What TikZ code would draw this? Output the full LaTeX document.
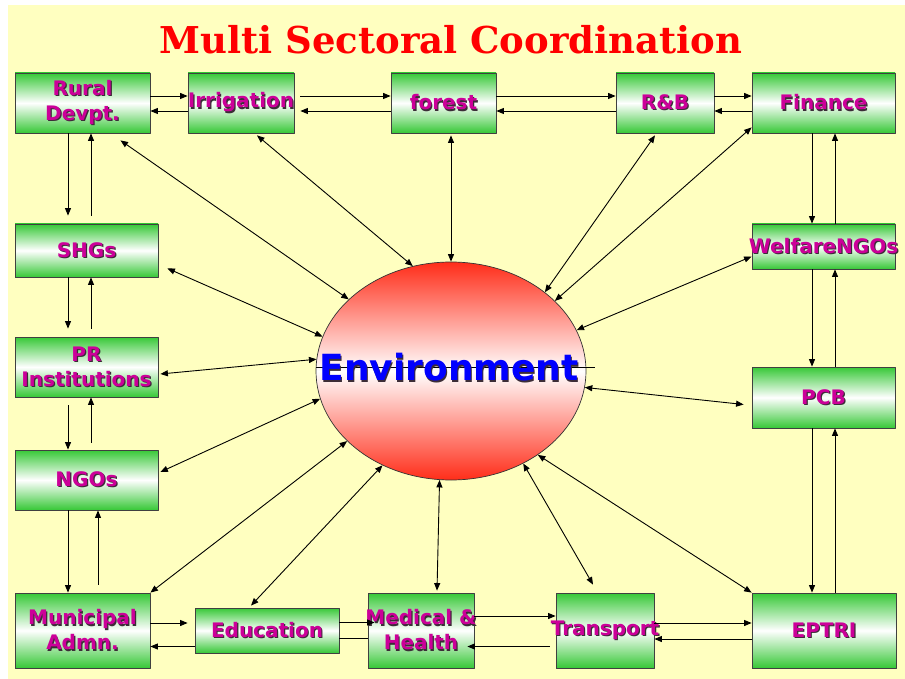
\documentclass[tikz,border=0pt]{standalone}
\usepackage{fontspec}
\setmainfont{DejaVu Sans}
\newfontfamily\titlefont{DejaVu Serif}
\usetikzlibrary{shapes.geometric,arrows.meta}
\definecolor{bgyellow}{RGB}{255,255,192}
\definecolor{boxgreen}{RGB}{55,200,55}
\definecolor{txtmag}{RGB}{204,0,153}
\definecolor{envred}{RGB}{255,45,25}
\definecolor{envblue}{RGB}{0,0,255}
\definecolor{shad}{RGB}{60,45,55}
% text with a small drop shadow, zero width so the box keeps its size
\newcommand\sh[1]{\makebox[0pt]{\rlap{\hspace{1.2pt}\raisebox{-1.2pt}{\textcolor{shad}{#1}}}#1}}
\tikzset{
  box/.style 2 args={draw=black!75, line width=0.8pt, top color=boxgreen, bottom color=boxgreen,
    middle color=white, minimum width=#1pt, minimum height=#2pt, inner sep=0pt,
    text=txtmag, font=\fontsize{20}{25}\selectfont\bfseries, align=center},
  link/.style={->, line width=0.9pt},
  dbl/.style={<->, line width=0.9pt},
}
\begin{document}
\begin{tikzpicture}[x=1pt,y=-1pt,>={Triangle[length=7.5pt,width=6pt]},line join=round]
  \useasboundingbox (0,0) rectangle (905,679);
  \fill[bgyellow] (8,5) rectangle (905,679);
  \node[text=red] (title) at (451,40) {\titlefont\fontsize{37}{40}\selectfont\bfseries Multi Sectoral Coordination};
  % environment
  \node[ellipse, draw=black!80, line width=0.7pt, top color=envred, bottom color=envred, middle color=white,
    minimum width=270pt, minimum height=218pt, inner sep=0pt] (env) at (451,371) {};
  \draw[line width=0.6pt] ([yshift=4pt]env.west) -- ([xshift=9pt,yshift=4pt]env.east);
  \node[text=envblue, font=\fontsize{36}{40}\selectfont\bfseries] (envtxt) at (449,368) {\sh{Environment}};
  % boxes
  \node[box={135}{60}] (rural) at (82.5,103) {\sh{Rural}\\\sh{Devpt.}\rule[-4pt]{0pt}{1pt}};
  \node[box={106}{60}] (irr) at (241,103) {\sh{Irrigation}};
  \node[box={105}{60}] (forest) at (443.5,103) {\sh{forest}};
  \node[box={98}{60}] (rb) at (665,103) {\sh{R\&B}};
  \node[box={143}{60}] (fin) at (823.5,103) {\sh{Finance}};
  \node[box={143}{53}] (shgs) at (86.5,250.5) {\sh{SHGs}};
  \node[box={143}{60}] (pr) at (86.5,367) {\sh{PR}\\\sh{Institutions}};
  \node[box={143}{60}] (ngos) at (86.5,480) {\sh{NGOs}};
  \node[box={143}{45}] (welf) at (823.5,246.5) {\sh{WelfareNGOs}};
  \node[box={143}{61}] (pcb) at (823.5,397.5) {\sh{PCB}};
  \node[box={135}{75}] (mun) at (82.5,630.5) {\sh{Municipal}\\\sh{Admn.}};
  \node[box={144}{45}] (edu) at (267,630.5) {\sh{Education}};
  \node[box={106}{75}] (med) at (421,630.5) {\sh{Medical \&}\\\sh{Health}};
  \node[box={98}{75}] (trans) at (605,630.5) {\sh{Transport}};
  \node[box={144}{75}] (eptri) at (824,630.5) {\sh{EPTRI}};
  % lanes for the vertical pairs
  \coordinate (ldown) at (68,0);
  \coordinate (lup) at (91,0);
  \coordinate (lup2) at (98,0);
  \coordinate (rdown) at (812,0);
  \coordinate (rup) at (835,0);
  % top row
  \draw[link] ([yshift=7pt]rural.east) -- ([yshift=7pt]irr.west);
  \draw[link] ([yshift=-8pt]irr.west) -- ([yshift=-8pt]rural.east);
  \draw[link, shorten <=6pt] ([yshift=7pt]irr.east) -- ([yshift=7pt]forest.west);
  \draw[link, shorten >=6pt] ([yshift=-8pt]forest.west) -- ([yshift=-8pt]irr.east);
  \draw[link] ([yshift=7pt]forest.east) -- ([yshift=7pt]rb.west);
  \draw[link] ([yshift=-8pt]rb.west) -- ([yshift=-8pt]forest.east);
  \draw[link] ([yshift=7pt]rb.east) -- ([yshift=7pt]fin.west);
  \draw[link] ([yshift=-8pt]fin.west) -- ([yshift=-8pt]rb.east);
  % left column
  \draw[link, shorten >=8pt] (rural.south -| ldown) -- (shgs.north -| ldown);
  \draw[link, shorten <=8pt] (shgs.north -| lup) -- (rural.south -| lup);
  \draw[link, shorten >=8pt] (shgs.south -| ldown) -- (pr.north -| ldown);
  \draw[link, shorten <=8pt] (pr.north -| lup) -- (shgs.south -| lup);
  \draw[link, shorten <=8pt] (pr.south -| ldown) -- (ngos.north -| ldown);
  \draw[link, shorten <=7pt] (ngos.north -| lup) -- (pr.south -| lup);
  \draw[link] (ngos.south -| ldown) -- (mun.north -| ldown);
  \draw[link, shorten <=8pt] (mun.north -| lup2) -- (ngos.south -| lup2);
  % right column
  \draw[link] (fin.south -| rdown) -- (welf.north -| rdown);
  \draw[link] (welf.north -| rup) -- (fin.south -| rup);
  \draw[link] (welf.south -| rdown) -- (pcb.north -| rdown);
  \draw[link] (pcb.north -| rup) -- (welf.south -| rup);
  \draw[link] (pcb.south -| rdown) -- (eptri.north -| rdown);
  \draw[link] (eptri.north -| rup) -- (pcb.south -| rup);
  % bottom row
  \draw[link, shorten >=7pt] ([yshift=7.5pt]mun.east) -- ([yshift=7.5pt]mun.east -| edu.west);
  \draw[link] ([yshift=-16pt]edu.west) -- ([yshift=-16pt]edu.west -| mun.east);
  \draw[link, shorten >=-7pt] ([yshift=8pt]edu.east) -- ([yshift=8pt]edu.east -| med.west);
  \draw[line width=0.9pt] ([yshift=-8pt]edu.east) -- ([yshift=-8pt]edu.east -| med.west);
  \draw[link] ([yshift=14.5pt]med.east) -- ([yshift=14.5pt]trans.west);
  \draw[link, shorten <=6pt, shorten >=-7pt] ([yshift=-16pt]trans.west) -- ([yshift=-16pt]med.east);
  \draw[link] ([yshift=7.5pt]trans.east) -- ([yshift=7.5pt]eptri.west);
  \draw[link] ([yshift=-8.5pt]eptri.west) -- ([yshift=-8.5pt]trans.east);
  % links with the environment
  \draw[dbl] ([xshift=38pt,yshift=-7pt]rural.south) -- (env.145.2);
  \draw[dbl] ([xshift=16pt,yshift=-2pt]irr.south) -- (env.110.2);
  \draw[dbl] ([xshift=7.5pt,yshift=-2pt]forest.south) -- (env.90);
  \draw[dbl] ([xshift=-10pt,yshift=-2pt]rb.south) -- (env.40.7);
  \draw[dbl] ([yshift=6pt]fin.south west) -- (env.34.6);
  \draw[dbl] ([xshift=9pt,yshift=9pt]shgs.south east) -- (env.165);
  \draw[dbl] ([yshift=-10pt]welf.west) -- (env.18.4);
  \draw[dbl] ([xshift=2pt,yshift=-7pt]pr.east) -- (env.175.3);
  \draw[dbl] ([xshift=-8pt,yshift=-7pt]pcb.west) -- (env.-7.9);
  \draw[dbl] ([xshift=2pt,yshift=8pt]ngos.east) -- (env.192.6);
  \draw[dbl] (mun.north east) -- (env.214.4);
  \draw[dbl] ([xshift=-16pt,yshift=2pt]edu.north) -- (env.234.4);
  \draw[dbl] ([xshift=16pt,yshift=2pt]med.north) -- (env.264.8);
  \draw[dbl] ([xshift=-12pt,yshift=8pt]trans.north) -- (env.308.4);
  \draw[dbl] (eptri.north west) -- (env.316.4);
\end{tikzpicture}
\end{document}
